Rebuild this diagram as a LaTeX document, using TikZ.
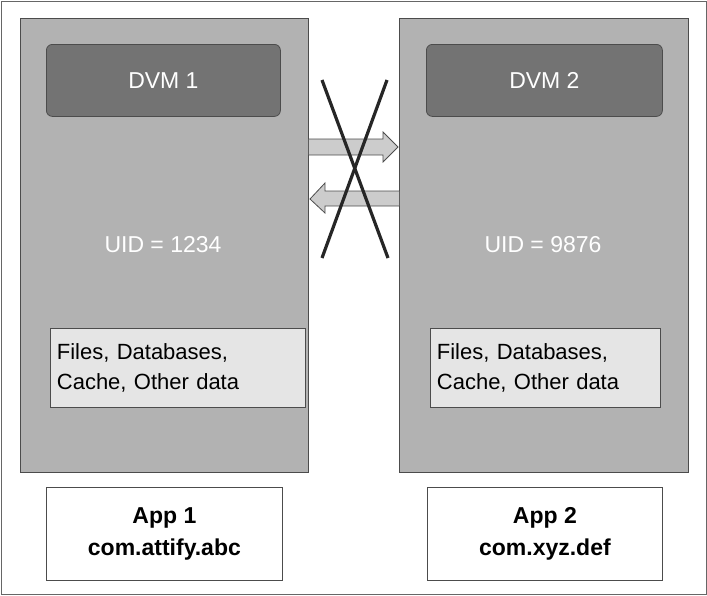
\documentclass[tikz,border=0pt]{standalone}
\usepackage{fontspec}
\setmainfont{Liberation Sans}
\begin{document}
\begin{tikzpicture}[x=1pt,y=-1pt,
 panel/.style={draw=black!70,line width=0.8pt,fill=black!30,anchor=north west,inner sep=0},
 dvm/.style={draw=black!70,line width=0.8pt,fill=black!55,rounded corners=6pt,anchor=north west,inner sep=0,text=white,font=\fontsize{23}{26}\selectfont},
 files/.style={draw=black!70,line width=0.8pt,fill=black!10,anchor=north west,inner sep=0,align=left,font=\fontsize{22}{30}\selectfont},
 app/.style={draw=black!70,line width=0.8pt,fill=white,anchor=north west,inner sep=0,align=center,font=\bfseries\fontsize{23}{32}\selectfont},
 uid/.style={text=white,font=\fontsize{23}{26}\selectfont},
 arr/.style={draw=black!70,line width=0.8pt,fill=black!20},
 cross/.style={line width=3.2pt,black!85}]
\useasboundingbox (0,0) rectangle (707,595);
\draw[black!60,line width=0.8pt] (1,1) rectangle (706,594);
\node[panel,minimum width=288pt,minimum height=454pt] (p1) at (20,18) {};
\node[panel,minimum width=289pt,minimum height=454pt] (p2) at (399,18) {};
\node[dvm,minimum width=234pt,minimum height=72pt] (d1) at (46,44) {DVM 1};
\node[dvm,minimum width=236pt,minimum height=72pt] (d2) at (426,44) {DVM 2};
\node[uid] (u1) at (163,245) {UID = 1234};
\node[uid] (u2) at (543,245) {UID = 9876};
\node[files,minimum width=255pt,minimum height=79pt,text width=250pt] (f1) at (50,328) {\hspace*{4pt}Files, Databases,\\\hspace*{4pt}Cache, Other data};
\node[files,minimum width=230pt,minimum height=79pt,text width=225pt] (f2) at (430,328) {\hspace*{4pt}Files, Databases,\\\hspace*{4pt}Cache, Other data};
\node[app,minimum width=236pt,minimum height=93pt] (a1) at (46,487) {App 1\\com.attify.abc};
\node[app,minimum width=235pt,minimum height=93pt] (a2) at (427,487) {App 2\\com.xyz.def};
\draw[arr] (p1.east |- 0,139) -- (383,139) -- (383,132) -- (398,147) -- (383,162) -- (383,155) -- (p1.east |- 0,155);
\draw[arr] (p2.west |- 0,191) -- (325,191) -- (325,183) -- (310,199) -- (325,213) -- (325,206) -- (p2.west |- 0,206);
\draw[cross] (322,80) -- (388,258);
\draw[cross] (387,80) -- (322,258);
\end{tikzpicture}
\end{document}
